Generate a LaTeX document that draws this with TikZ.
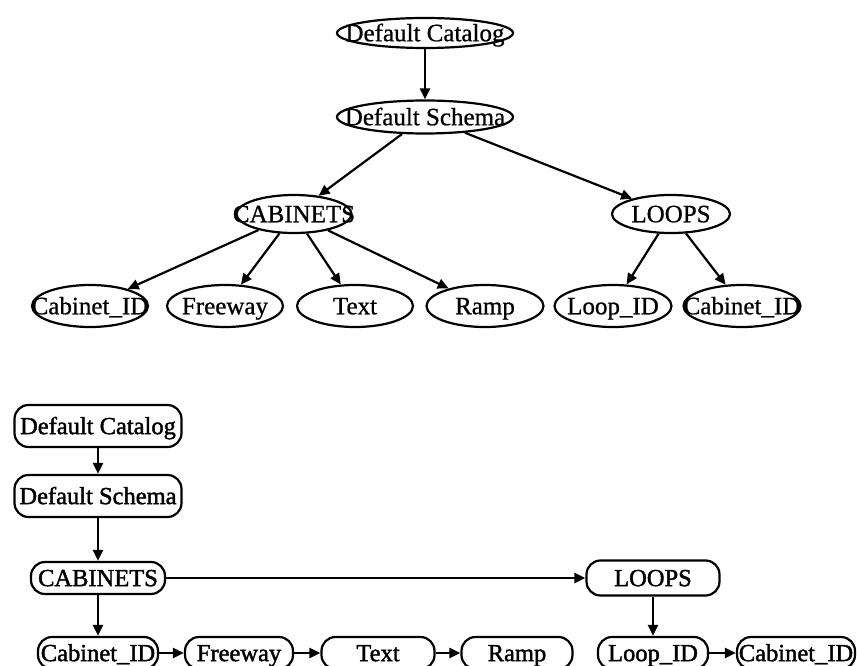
\documentclass[tikz,border=0pt]{standalone}
\usepackage{fontspec}
\setmainfont{Liberation Serif}
\newfontfamily\topfont{Liberation Serif}[FakeBold=0.8]
\newfontfamily\botfont{Liberation Serif}[FakeBold=1.6]
\newcommand\lbl[1]{\makebox[0pt]{#1}}
\usetikzlibrary{shapes.geometric,arrows.meta}
\tikzset{
  every node/.style={inner sep=0pt},
  ell/.style={ellipse, draw, line width=2.2pt, text height=16.5pt, text depth=0pt, font=\topfont\fontsize{25}{28}\selectfont},
  pill/.style={rectangle, draw, line width=2.2pt, rounded corners=14pt, text height=16.2pt, text depth=0pt, font=\botfont\fontsize{24.5}{27}\selectfont},
  arr/.style={line width=2.2pt, -{Triangle[length=11pt,width=10pt]}},
}
\begin{document}
\begin{tikzpicture}[x=1pt,y=-1pt]
\useasboundingbox (0,0) rectangle (857,666);
% top tree
\node[ell, minimum width=176pt, minimum height=30pt] (cat) at (425,33) {\lbl{Default Catalog}};
\node[ell, minimum width=176pt, minimum height=33pt] (sch) at (425,117) {\lbl{Default Schema}};
\node[ell, minimum width=115pt, minimum height=38pt] (cab) at (294,214) {\lbl{CABINETS}};
\node[ell, minimum width=118pt, minimum height=38pt] (loops) at (671,214) {\lbl{LOOPS}};
\node[ell, minimum width=116pt, minimum height=42pt] (cid) at (90,306) {\lbl{Cabinet\_ID}};
\node[ell, minimum width=116pt, minimum height=42pt] (free) at (225,306) {\lbl{Freeway}};
\node[ell, minimum width=116pt, minimum height=42pt] (text) at (355,306) {\lbl{Text}};
\node[ell, minimum width=117pt, minimum height=42pt] (ramp) at (485,306) {\lbl{Ramp}};
\node[ell, minimum width=117pt, minimum height=42pt] (lid) at (613,306) {\lbl{Loop\_ID}};
\node[ell, minimum width=117pt, minimum height=42pt] (cid2) at (742,306) {\lbl{Cabinet\_ID}};
\draw[arr] (cat) -- (sch);
\draw[arr] (sch) -- (cab);
\draw[arr] (sch) -- (loops);
\draw[arr] (cab) -- (cid);
\draw[arr] (cab) -- (free);
\draw[arr] (cab) -- (text);
\draw[arr] (cab) -- (ramp);
\draw[arr] (loops) -- (lid);
\draw[arr] (loops) -- (cid2);
% bottom tree
\node[pill, minimum width=167pt, minimum height=42pt] (bcat) at (98,426) {\lbl{Default Catalog}};
\node[pill, minimum width=167pt, minimum height=42pt] (bsch) at (98,496) {\lbl{Default Schema}};
\node[pill, minimum width=134pt, minimum height=32pt] (bcab) at (98,578) {\lbl{CABINETS}};
\node[pill, minimum width=133pt, minimum height=35pt] (bloops) at (653,578) {\lbl{LOOPS}};
\node[pill, minimum width=120pt, minimum height=32pt] (bcid) at (98,653) {\lbl{Cabinet\_ID}};
\node[pill, minimum width=108pt, minimum height=32pt] (bfree) at (239,653) {\lbl{Freeway}};
\node[pill, minimum width=113pt, minimum height=32pt] (btext) at (378,653) {\lbl{Text}};
\node[pill, minimum width=111pt, minimum height=32pt] (bramp) at (517,653) {\lbl{Ramp}};
\node[pill, minimum width=110pt, minimum height=32pt] (blid) at (653,653) {\lbl{Loop\_ID}};
\node[pill, minimum width=118pt, minimum height=32pt] (bcid2) at (796,653) {\lbl{Cabinet\_ID}};
\draw[arr] (bcat) -- (bsch);
\draw[arr] (bsch) -- (bcab);
\draw[arr] (bcab) -- (bloops);
\draw[arr] (bcab) -- (bcid);
\draw[arr] (bloops) -- (blid);
\draw[arr] (bcid) -- (bfree);
\draw[arr] (bfree) -- (btext);
\draw[arr] (btext) -- (bramp);
\draw[arr] (blid) -- (bcid2);
\end{tikzpicture}
\end{document}
